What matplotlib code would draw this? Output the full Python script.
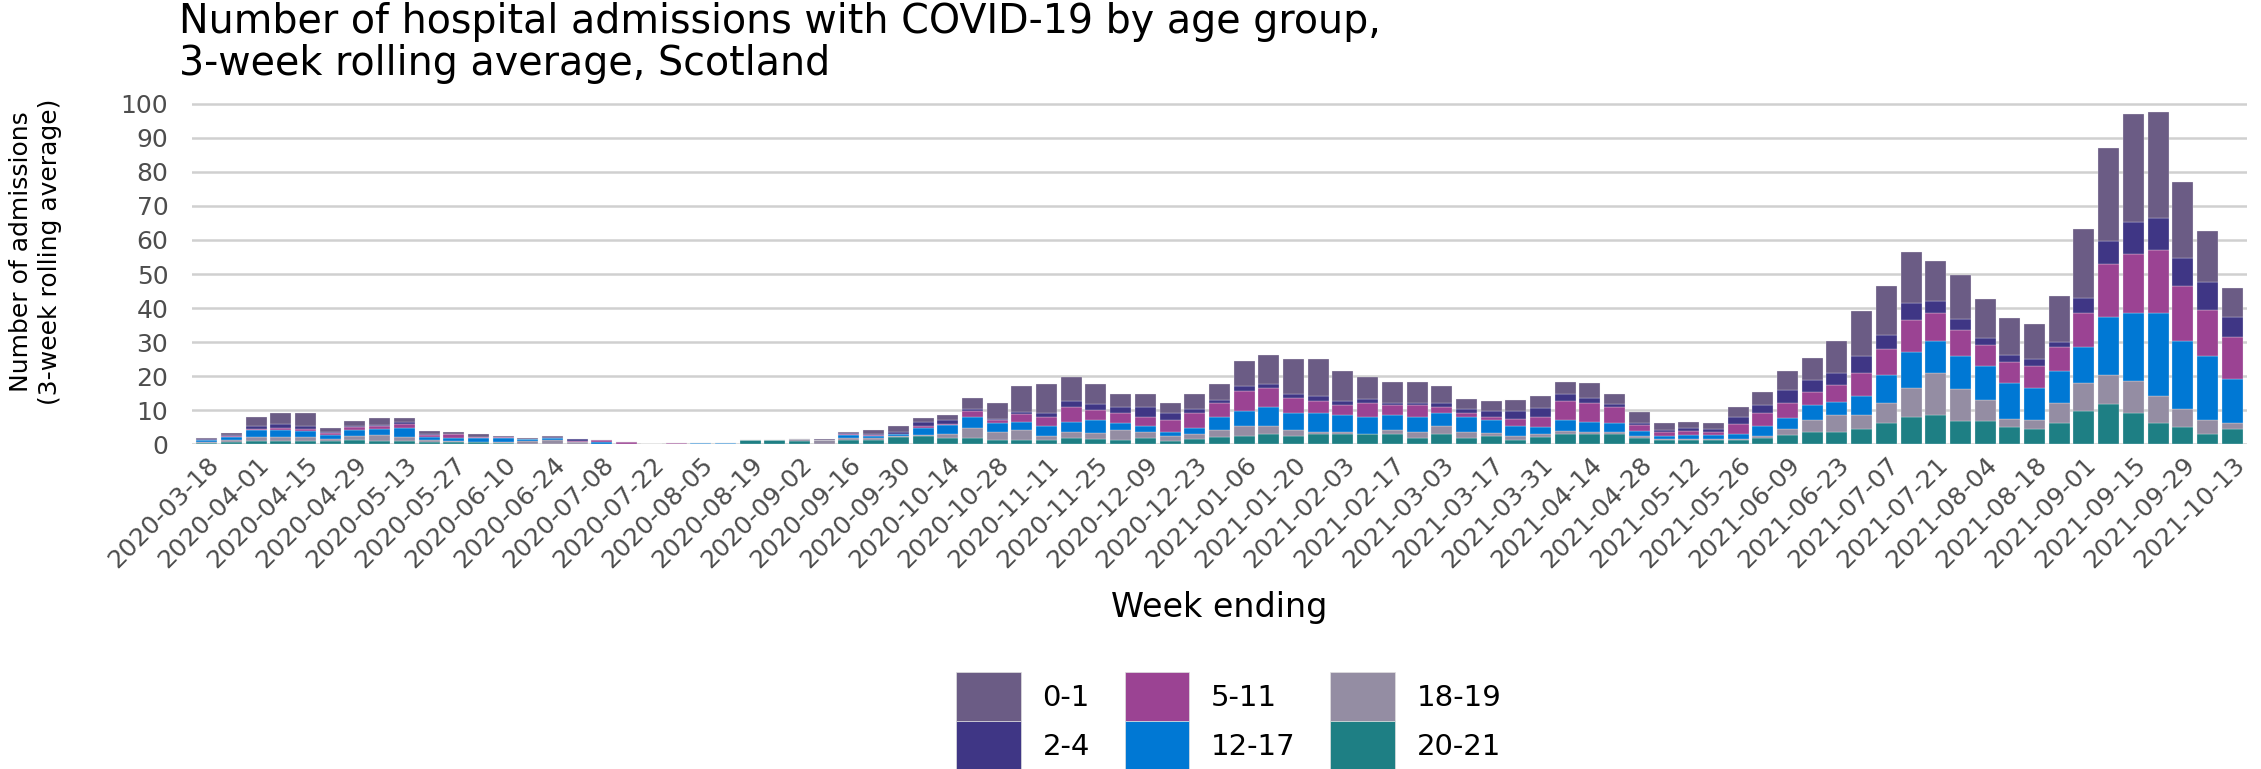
import numpy as np
import pandas as pd
import matplotlib
matplotlib.use("Agg")
import matplotlib.pyplot as plt
from matplotlib.patches import Patch

# weekly categories (week ending dates)
weeks = pd.date_range("2020-03-18", "2021-10-13", freq="7D")
week_labels = [d.strftime("%Y-%m-%d") for d in weeks]

age_groups = ["0-1", "2-4", "5-11", "12-17", "18-19", "20-21"]
group_colours = ["#6B5C85", "#3F3685", "#9B4393", "#0078D4", "#948DA3", "#1E7F84"]

# 3-week rolling average admissions
age_0_1 = [0.1, 0.5, 2.4, 3.2, 3.7, 1.4, 1.3, 2.0, 1.2, 1.0,
           0.5, 0.8, 0.1, 0.1, 0.2, 0.1, 0.0, 0.0, 0.0, 0.0,
           0.0, 0.0, 0.0, 0.0, 0.0, 0.3, 0.5, 1.3, 1.8, 1.3,
           1.5, 3.1, 4.7, 7.6, 8.6, 6.9, 5.7, 3.7, 3.7, 3.0,
           4.4, 4.8, 7.5, 8.6, 10.5, 11.1, 8.7, 6.3, 6.2, 6.2,
           5.0, 3.1, 3.0, 3.0, 3.6, 3.6, 4.4, 2.9, 3.1, 1.9,
           1.9, 1.8, 3.2, 3.7, 5.7, 6.3, 9.3, 13.1, 14.2, 14.9,
           11.8, 13.0, 11.6, 11.1, 10.4, 13.5, 20.5, 27.5, 31.9, 31.1,
           22.5, 14.9, 8.6]
age_2_4 = [0.4, 0.4, 1.1, 1.2, 1.0, 0.2, 0.5, 0.5, 0.6, 0.3,
           0.1, 0.1, 0.1, 0.0, 0.4, 0.5, 0.0, 0.0, 0.0, 0.0,
           0.0, 0.0, 0.0, 0.0, 0.0, 0.0, 0.3, 0.3, 0.6, 1.2,
           1.0, 0.6, 0.3, 0.6, 1.3, 1.8, 1.8, 1.9, 3.1, 2.0,
           1.1, 0.8, 1.3, 1.2, 1.2, 1.3, 1.3, 1.2, 0.6, 0.6,
           1.2, 1.0, 1.9, 2.5, 2.6, 2.0, 1.3, 0.8, 0.6, 0.8,
           1.0, 0.7, 1.8, 2.4, 3.7, 3.6, 3.6, 5.0, 4.4, 4.9,
           3.7, 3.2, 2.0, 1.9, 2.0, 1.4, 4.4, 6.7, 9.3, 9.5,
           8.0, 8.2, 5.7]
age_5_11 = [0.1, 0.2, 0.3, 0.6, 0.7, 0.6, 0.7, 0.7, 1.2, 0.4,
            1.0, 0.3, 0.3, 0.0, 0.0, 0.3, 0.5, 0.5, 0.0, 0.4,
            0.0, 0.0, 0.0, 0.0, 0.0, 0.0, 0.2, 0.2, 0.1, 0.4,
            0.5, 1.9, 1.1, 2.3, 2.5, 4.3, 3.0, 2.9, 2.5, 3.6,
            4.4, 4.3, 6.0, 5.6, 4.2, 3.6, 3.0, 4.3, 3.0, 3.6,
            1.8, 1.4, 0.6, 1.9, 3.0, 5.5, 5.5, 4.9, 1.9, 1.0,
            1.0, 1.0, 3.1, 3.8, 4.5, 3.7, 5.0, 6.8, 7.4, 9.4,
            8.0, 7.5, 6.2, 6.3, 6.3, 6.9, 10.0, 15.6, 17.5, 18.6,
            16.3, 13.6, 12.5]
age_12_17 = [0.6, 1.0, 2.0, 2.0, 1.6, 1.1, 1.8, 1.9, 2.7, 1.0,
             1.0, 1.0, 1.3, 0.6, 0.5, 0.0, 0.5, 0.0, 0.0, 0.0,
             0.4, 0.4, 0.0, 0.0, 0.0, 0.0, 0.9, 0.7, 0.6, 2.1,
             2.6, 3.1, 2.5, 2.6, 3.0, 3.1, 3.8, 2.0, 1.9, 1.3,
             2.0, 3.7, 4.4, 5.6, 5.1, 5.6, 4.9, 4.9, 4.4, 4.2,
             3.7, 4.2, 4.0, 3.1, 2.0, 3.4, 3.0, 2.5, 1.3, 0.9,
             1.2, 1.0, 1.3, 3.1, 3.1, 4.4, 3.8, 5.7, 8.2, 10.6,
             9.4, 9.9, 10.0, 10.6, 9.4, 9.4, 10.6, 16.9, 20.0, 24.3,
             20.0, 18.7, 13.0]
age_18_19 = [0.2, 0.5, 1.2, 1.1, 1.1, 0.7, 1.2, 1.7, 1.1, 0.6,
             0.3, 0.2, 0.2, 0.9, 1.2, 0.7, 0.1, 0.0, 0.0, 0.0,
             0.0, 0.0, 0.0, 0.0, 0.5, 1.1, 0.5, 0.4, 0.1, 0.4,
             1.2, 3.0, 2.4, 2.8, 1.1, 1.8, 1.7, 2.9, 1.8, 1.3,
             1.2, 1.9, 3.0, 2.4, 1.8, 0.6, 0.6, 0.1, 1.2, 1.9,
             2.4, 1.9, 0.9, 1.1, 0.7, 0.9, 0.6, 0.6, 0.7, 0.3,
             0.3, 0.4, 0.5, 0.6, 1.8, 3.7, 4.9, 4.2, 6.1, 8.8,
             12.5, 9.4, 6.2, 2.4, 2.9, 6.1, 8.0, 8.6, 9.2, 8.0,
             5.4, 4.3, 1.8]
age_20_21 = [0.3, 0.6, 0.8, 1.0, 1.0, 0.8, 1.2, 0.9, 0.9, 0.6,
             0.5, 0.5, 0.3, 0.1, 0.1, 0.0, 0.0, 0.0, 0.0, 0.0,
             0.0, 0.0, 1.1, 1.1, 1.0, 0.1, 1.2, 1.3, 2.2, 2.3,
             1.7, 1.7, 1.2, 1.2, 1.2, 1.7, 1.6, 1.2, 1.7, 1.0,
             1.6, 2.2, 2.3, 2.9, 2.3, 2.9, 2.9, 2.8, 2.9, 1.7,
             2.9, 1.7, 2.3, 1.2, 2.2, 2.9, 3.0, 3.0, 1.7, 1.2,
             1.2, 1.2, 1.1, 1.7, 2.7, 3.5, 3.6, 4.3, 6.1, 7.8,
             8.5, 6.7, 6.7, 4.9, 4.3, 6.1, 9.8, 11.8, 9.2, 6.1,
             4.9, 2.9, 4.3]

y_ticks = list(range(0, 101, 10))

plt.rcParams["font.family"] = ["DejaVu Sans"]

fig = plt.figure(figsize=(22.61, 7.69), dpi=100)
ax = fig.add_axes([0.0849, 0.4226, 0.9089, 0.4466])

# stack from oldest group at the bottom up to youngest on top
series = [age_0_1, age_2_4, age_5_11, age_12_17, age_18_19, age_20_21]
x = np.arange(len(weeks))
bottom = np.zeros(len(weeks))
for name, colour, vals in reversed(list(zip(age_groups, group_colours, series))):
    vals = np.asarray(vals)
    ax.bar(x, vals, bottom=bottom, width=0.85, color=colour,
           edgecolor="#f2f2f2", linewidth=0.2, zorder=2)
    bottom += vals

ax.set_xlim(-0.6, len(weeks) - 0.4)
ax.set_ylim(0, 101)
ax.set_yticks(y_ticks)
ax.set_xticks(x[::2])
ax.set_xticklabels(week_labels[::2], rotation=45, ha="right", va="top",
                   rotation_mode="anchor")
ax.tick_params(axis="both", length=0, labelsize=18, colors="#4d4d4d")
ax.tick_params(axis="y", pad=17)
ax.tick_params(axis="x", pad=6)
ax.yaxis.grid(True, color="#d0d0d0", linewidth=1.8, zorder=0)
ax.set_axisbelow(True)
for s in ax.spines.values():
    s.set_visible(False)

ax.set_ylabel("Number of admissions\n(3-week rolling average)", fontsize=18,
              va="center", linespacing=1.25)
ax.yaxis.set_label_coords(-0.076, 0.56)
ax.set_xlabel("Week ending", fontsize=24, va="center")
ax.xaxis.set_label_coords(0.5, -0.475)

fig.text(0.0792, 0.997,
         "Number of hospital admissions with COVID-19 by age group,\n"
         "3-week rolling average, Scotland",
         fontsize=28.5, ha="left", va="top", linespacing=1.05)

handles = [Patch(facecolor=c, edgecolor="#e0e0e0", linewidth=0.5) for c in group_colours]
fig.legend(handles, age_groups, ncol=3, loc="center",
           bbox_to_anchor=(0.5435, 0.0624), frameon=False, fontsize=21,
           handlelength=2.2, handleheight=2.2, handletextpad=0.75,
           columnspacing=1.2, labelspacing=0.0, borderpad=0)

fig.savefig("out.png", dpi=100)
